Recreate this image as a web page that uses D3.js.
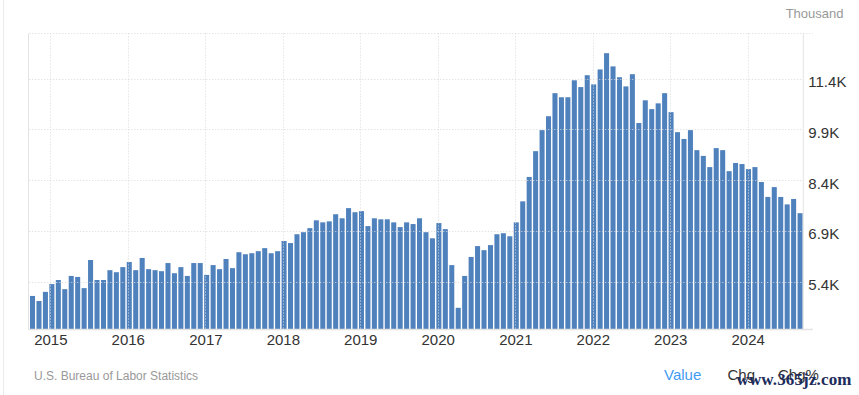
<!DOCTYPE html>
<html>
<head>
<meta charset="utf-8">
<script src="https://cdn.jsdelivr.net/npm/d3@7"></script>
<style>
  body { margin: 0; background: #fff; }
  svg { display: block; font-family: "Liberation Sans", Arial, sans-serif; }
</style>
</head>
<body>
<svg id="chart"></svg>
<script>
// job openings, thousands of thousands (K), monthly from Oct 2014
var startMonth = new Date(2014, 9, 1);
var v2014 = [4.99, 4.84, 5.11];
var v2015 = [5.34, 5.46, 5.19, 5.58, 5.55, 5.22, 6.05, 5.46, 5.46, 5.75, 5.69, 5.84];
var v2016 = [5.99, 5.75, 6.11, 5.78, 5.75, 5.72, 5.96, 5.66, 5.84, 5.58, 5.96, 5.96];
var v2017 = [5.61, 5.90, 5.78, 6.08, 5.81, 6.28, 6.22, 6.25, 6.31, 6.40, 6.25, 6.31];
var v2018 = [6.61, 6.55, 6.81, 6.87, 6.99, 7.22, 7.16, 7.19, 7.40, 7.28, 7.58, 7.46];
var v2019 = [7.49, 7.05, 7.28, 7.25, 7.25, 7.16, 7.02, 7.16, 7.11, 7.28, 6.87, 6.69];
var v2020 = [7.14, 6.96, 5.90, 4.64, 5.58, 6.14, 6.46, 6.34, 6.49, 6.81, 6.84, 6.75];
var v2021 = [7.16, 7.78, 8.50, 9.26, 9.88, 10.29, 10.97, 10.85, 10.85, 11.35, 11.15, 11.50];
var v2022 = [11.23, 11.67, 12.15, 11.76, 11.44, 11.17, 11.53, 10.09, 10.76, 10.50, 10.67, 10.97];
var v2023 = [10.41, 9.82, 9.62, 9.88, 9.29, 9.12, 8.79, 9.35, 9.29, 8.67, 8.91, 8.88];
var v2024 = [8.73, 8.79, 8.35, 7.91, 8.20, 7.91, 7.69, 7.85, 7.43];
var yTicks = [5.4, 6.9, 8.4, 9.9, 11.4];
var unitLabel = "Thousand";
var sourceLabel = "U.S. Bureau of Labor Statistics";
var tabLabels = ["Value", "Chg", "Chg%"];

var values = [].concat(v2014, v2015, v2016, v2017, v2018, v2019, v2020, v2021, v2022, v2023, v2024);
var months = d3.timeMonth.range(startMonth, d3.timeMonth.offset(startMonth, values.length));
var data = months.map(function(m, i) { return { date: m, value: values[i] }; });

var W = 859, H = 395;
var pLeft = 29.3, pRight = 803.3, pTop = 33.5, pBottom = 329;

var svg = d3.select("#chart").attr("width", W).attr("height", H);

var x = d3.scaleBand()
    .domain(months)
    .range([pLeft, pRight])
    .paddingInner(0.22)
    .paddingOuter(0.11);

var xt = d3.scaleTime()
    .domain([startMonth, d3.timeMonth.offset(startMonth, values.length)])
    .range([pLeft + 1.5, pRight + 2.5]);

var y = d3.scaleLinear()
    .domain([4.015, 12.73])
    .range([pBottom, pTop]);

// page edge
svg.append("line")
    .attr("x1", 3.5).attr("x2", 3.5).attr("y1", 0).attr("y2", H)
    .attr("stroke", "#ececec");

// bars
svg.append("g").selectAll("rect")
    .data(data)
    .join("rect")
    .attr("x", function(d) { return x(d.date); })
    .attr("width", x.bandwidth())
    .attr("y", function(d) { return y(d.value); })
    .attr("height", function(d) { return pBottom - y(d.value); })
    .attr("fill", "#4f81bd");

// grid
var grid = svg.append("g").attr("stroke", "#d9d9d9").attr("stroke-dasharray", "1,2");
grid.selectAll(".hg")
    .data(yTicks)
    .join("line")
    .attr("x1", pLeft).attr("x2", pRight)
    .attr("y1", function(d) { return Math.round(y(d)) + 0.5; })
    .attr("y2", function(d) { return Math.round(y(d)) + 0.5; });
grid.append("line")
    .attr("x1", pLeft).attr("x2", pRight + 9.5)
    .attr("y1", pTop).attr("y2", pTop);
var years = xt.ticks(d3.timeYear.every(1));
grid.selectAll(".vg")
    .data(years)
    .join("line")
    .attr("x1", function(d) { return Math.round(xt(d)) + 0.5; })
    .attr("x2", function(d) { return Math.round(xt(d)) + 0.5; })
    .attr("y1", pTop).attr("y2", pBottom);

// frame
var frame = svg.append("g").attr("stroke", "#e3e3e3");
frame.append("line").attr("x1", 28.5).attr("x2", 28.5).attr("y1", pTop).attr("y2", pBottom);
frame.append("line").attr("x1", pRight).attr("x2", pRight).attr("y1", pTop).attr("y2", pBottom);
frame.append("line").attr("x1", 28.5).attr("x2", pRight + 9.5).attr("y1", pBottom + 0.5).attr("y2", pBottom + 0.5)
    .attr("stroke-width", 1.5);

// axes
var yAxis = svg.append("g")
    .attr("transform", "translate(" + pRight + ",3)")
    .call(d3.axisRight(y).tickValues(yTicks).tickSize(0).tickPadding(5)
        .tickFormat(function(d) { return d.toFixed(1) + "K"; }));
yAxis.select(".domain").remove();
yAxis.selectAll("text").attr("font-size", 15).attr("fill", "#333").attr("font-family", null);

var xAxis = svg.append("g")
    .attr("transform", "translate(0," + pBottom + ")")
    .call(d3.axisBottom(xt).tickValues(years).tickSize(0).tickPadding(5)
        .tickFormat(d3.timeFormat("%Y")));
xAxis.select(".domain").remove();
xAxis.selectAll("text").attr("font-size", 15).attr("fill", "#333").attr("font-family", null);

// texts
svg.append("text")
    .attr("x", 843.5).attr("y", 17.5)
    .attr("text-anchor", "end")
    .attr("font-size", 13).attr("fill", "#999")
    .text(unitLabel);

svg.append("text")
    .attr("x", 34).attr("y", 379.5)
    .attr("font-size", 12).attr("fill", "#999")
    .text(sourceLabel);

var tabX = [664, 727.5, 778];
svg.selectAll(".tab")
    .data(tabLabels)
    .join("text")
    .attr("x", function(d, i) { return tabX[i]; })
    .attr("y", 380)
    .attr("font-size", 15)
    .attr("fill", function(d, i) { return i === 0 ? "#3f9cf2" : "#333"; })
    .text(function(d) { return d; });

svg.append("text")
    .attr("x", 736.5).attr("y", 384.5)
    .attr("font-family", "'Liberation Serif', serif")
    .attr("font-weight", "bold")
    .attr("font-size", 17)
    .attr("textLength", 115)
    .attr("fill", "#1c2c5c")
    .text("www.365jz.com");
</script>
</body>
</html>
